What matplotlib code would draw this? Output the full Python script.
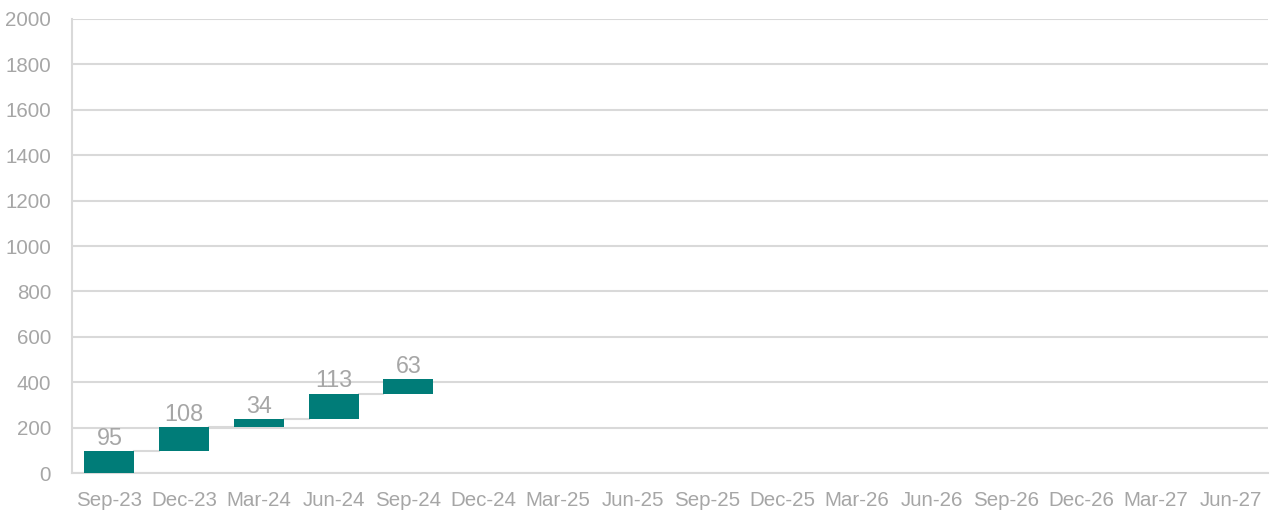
import matplotlib
matplotlib.use("Agg")
import matplotlib.pyplot as plt
import numpy as np

plt.rcParams['font.family'] = ['Liberation Sans', 'DejaVu Sans']

# quarters on the x axis
quarters = ["Sep-23", "Dec-23", "Mar-24", "Jun-24", "Sep-24", "Dec-24",
            "Mar-25", "Jun-25", "Sep-25", "Dec-25", "Mar-26", "Jun-26",
            "Sep-26", "Dec-26", "Mar-27", "Jun-27"]
# increments shown so far
increments = [95, 108, 34, 113, 63]
y_ticks = [0, 200, 400, 600, 800, 1000, 1200, 1400, 1600, 1800, 2000]

teal = "#007C78"
grey_text = "#A6A6A6"
grid_col = "#D9D9D9"

fig = plt.figure(figsize=(12.79, 5.16), dpi=100)
ax = fig.add_axes([0.0563, 0.0833, 0.9350, 0.8799])

x = np.arange(len(quarters))
inc = np.array(increments)
bottoms = np.concatenate([[0], np.cumsum(inc)[:-1]])
tops = bottoms + inc
w = 0.67

ax.bar(x[:len(inc)], inc, bottom=bottoms, width=w, color=teal, zorder=3)

# connector lines between bars
for i in range(len(inc) - 1):
    ax.plot([x[i] + w / 2, x[i + 1] - w / 2], [tops[i], tops[i]],
            color=grid_col, lw=1.5, zorder=2)

for i, v in enumerate(inc):
    ax.text(x[i], tops[i] + 6, str(v), ha="center", va="bottom",
            fontsize=16.8, color=grey_text, zorder=4)

ax.set_xlim(-0.5, len(quarters) - 0.5)
ax.set_ylim(0, 2000)
ax.set_yticks(y_ticks)
ax.set_xticks(x)
ax.set_xticklabels(quarters)
ax.yaxis.grid(True, color=grid_col, lw=1.5, zorder=0)
ax.tick_params(axis="both", length=0, labelsize=14.8, colors=grey_text)
ax.tick_params(axis="x", pad=13)
ax.tick_params(axis="y", pad=15)
for s in ["top", "right"]:
    ax.spines[s].set_visible(False)
for s in ["left", "bottom"]:
    ax.spines[s].set_color(grid_col)
    ax.spines[s].set_linewidth(1.5)

fig.savefig("out.png", dpi=100)
